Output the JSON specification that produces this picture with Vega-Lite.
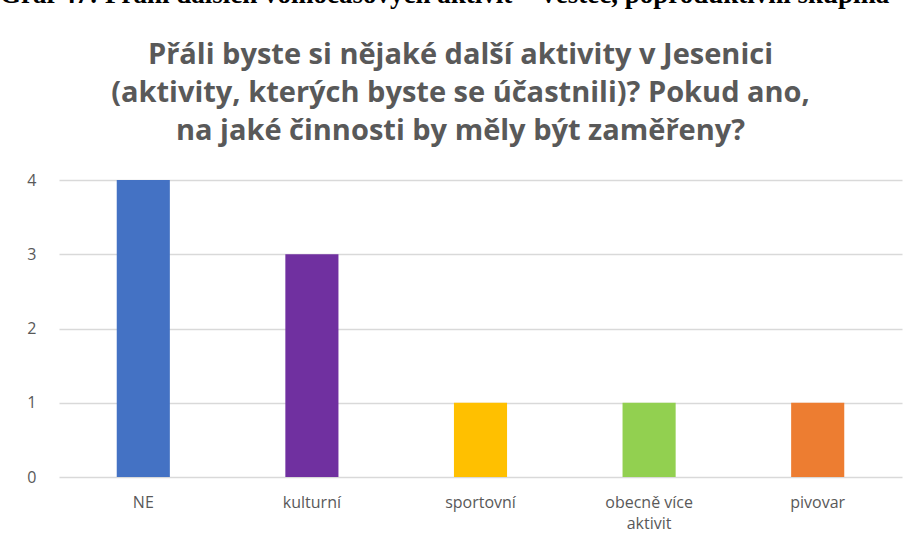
{
  "$schema": "https://vega.github.io/schema/vega-lite/v6.json",
  "width": 843,
  "height": 297,
  "autosize": "none",
  "padding": {"left": 59, "top": 180, "right": 21, "bottom": 67},
  "background": "white",
  "title": {
    "text": "Graf 47: Přání dalších volnočasových aktivit – Vestec, poproduktivní skupina",
    "anchor": "start",
    "frame": "group",
    "dx": -59,
    "dy": 21,
    "baseline": "alphabetic",
    "font": "Liberation Serif",
    "fontSize": 27,
    "fontWeight": "bold",
    "color": "black",
    "offset": 31
  },
  "data": {
    "values": [
      {"kategorie": "NE", "pocet": 4},
      {"kategorie": "kulturní", "pocet": 3},
      {"kategorie": "sportovní", "pocet": 1},
      {"kategorie": "obecně více aktivit", "pocet": 1},
      {"kategorie": "pivovar", "pocet": 1}
    ]
  },
  "mark": {"type": "bar"},
  "encoding": {
    "x": {
      "field": "kategorie",
      "type": "nominal",
      "sort": null,
      "scale": {"paddingInner": 0.685, "paddingOuter": 0.3425},
      "axis": {
        "title": null,
        "domain": false,
        "ticks": false,
        "labelAngle": 0,
        "labelFont": "Open Sans",
        "labelFontSize": 16,
        "labelColor": "#595959",
        "labelPadding": 17,
        "labelLineHeight": 21,
        "labelExpr": "datum.label == 'obecně více aktivit' ? ['obecně více', 'aktivit'] : datum.label"
      }
    },
    "y": {
      "field": "pocet",
      "type": "quantitative",
      "scale": {"domain": [0, 4], "nice": false},
      "axis": {
        "title": ["Přáli byste si nějaké další aktivity v Jesenici", "(aktivity, kterých byste se účastnili)? Pokud ano,", "na jaké činnosti by měly být zaměřeny?"],
        "titleAngle": 0,
        "titleAlign": "center",
        "titleBaseline": "alphabetic",
        "titleX": 401,
        "titleY": -117,
        "titleFont": "Open Sans",
        "titleFontSize": 29,
        "titleFontWeight": "bold",
        "titleColor": "#595959",
        "titleLineHeight": 38,
        "values": [0, 1, 2, 3, 4],
        "domain": false,
        "ticks": false,
        "labelFont": "Open Sans",
        "labelFontSize": 16,
        "labelColor": "#595959",
        "labelPadding": 23,
        "gridColor": "#d9d9d9",
        "gridWidth": 1.5
      }
    },
    "color": {
      "field": "kategorie",
      "type": "nominal",
      "sort": null,
      "scale": {
        "domain": ["NE", "kulturní", "sportovní", "obecně více aktivit", "pivovar"],
        "range": ["#4472c4", "#7030a0", "#ffc000", "#92d050", "#ed7d31"]
      },
      "legend": null
    }
  },
  "config": {"view": {"stroke": null}}
}
